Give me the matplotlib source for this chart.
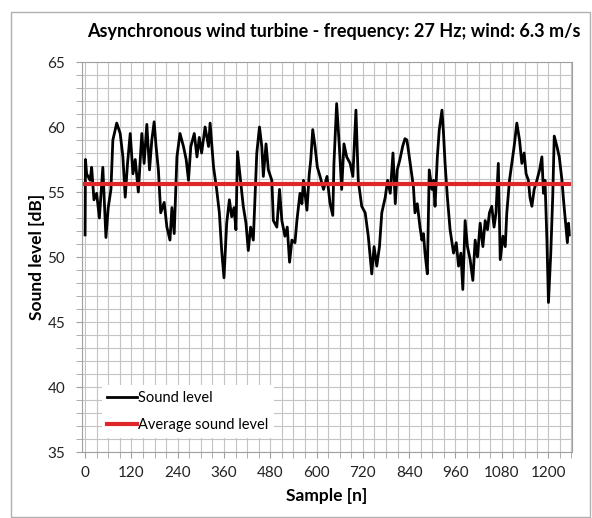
import matplotlib
matplotlib.use("Agg")
import matplotlib.pyplot as plt
from matplotlib.patches import Rectangle
from matplotlib.ticker import MultipleLocator
import numpy as np

plt.rcParams['font.family'] = ['Lato', 'DejaVu Sans']

# --- data ---
sample = [0, 1, 4, 13, 17, 23, 30, 37, 46, 54, 60, 67, 72, 82, 91, 98, 104, 110,
          117, 124, 130, 138, 147, 153, 160, 167, 173, 179, 184, 190, 196, 205,
          212, 220, 225, 231, 238, 246, 255, 262, 268, 274, 283, 290, 296, 302,
          311, 320, 324, 333, 341, 348, 354, 360, 367, 374, 380, 386, 391, 395,
          410, 417, 423, 429, 436, 445, 452, 458, 462, 469, 475, 484, 488, 497,
          504, 510, 518, 524, 530, 536, 544, 549, 557, 562, 566, 575, 581, 585,
          590, 596, 602, 609, 618, 627, 635, 642, 645, 652, 659, 665, 671, 678,
          687, 694, 702, 708, 717, 726, 734, 743, 749, 756, 763, 769, 778, 784,
          791, 798, 804, 809, 816, 823, 829, 834, 838, 844, 851, 855, 861, 868,
          873, 877, 881, 887, 892, 899, 903, 907, 913, 918, 925, 929, 933, 939,
          946, 955, 962, 968, 974, 979, 985, 991, 998, 1005, 1011, 1017, 1024,
          1031, 1037, 1043, 1048, 1054, 1060, 1065, 1071, 1076, 1083, 1089, 1093,
          1100, 1106, 1112, 1119, 1126, 1132, 1138, 1143, 1149, 1153, 1158, 1164,
          1171, 1178, 1184, 1188, 1192, 1197, 1201, 1207, 1212, 1216, 1223, 1229,
          1236, 1240, 1247, 1250, 1253, 1255]
sound_db = [51.7, 57.5, 56.4, 55.9, 56.9, 54.4, 54.9, 53.0, 56.9, 51.5, 53.8, 55.2,
            59.0, 60.3, 59.5, 57.7, 54.6, 57.2, 59.5, 56.4, 57.5, 55.0, 59.5, 57.2,
            60.2, 56.7, 59.0, 60.4, 58.5, 56.7, 53.4, 54.2, 52.3, 51.3, 53.8, 51.8,
            57.7, 59.5, 58.5, 57.5, 55.9, 58.5, 59.5, 57.7, 59.2, 58.0, 60.0, 58.5,
            60.3, 56.9, 55.2, 53.4, 50.5, 48.4, 52.6, 54.4, 53.1, 53.8, 52.1, 58.1,
            53.9, 52.6, 50.5, 52.3, 51.3, 58.0, 60.0, 58.5, 56.2, 58.7, 56.7, 55.9,
            52.8, 52.3, 55.2, 52.8, 51.6, 52.3, 49.6, 51.3, 51.1, 52.8, 54.9, 54.1,
            55.9, 53.6, 56.4, 57.5, 59.8, 58.5, 56.9, 56.2, 55.2, 56.2, 54.1, 53.2,
            57.2, 61.8, 58.5, 55.2, 58.7, 57.7, 57.2, 56.2, 61.3, 55.9, 53.9, 53.4,
            51.6, 48.7, 50.8, 49.3, 50.8, 53.4, 54.6, 55.9, 54.9, 58.0, 54.1, 56.7,
            57.5, 58.5, 59.1, 59.0, 58.2, 56.9, 55.4, 53.4, 54.1, 52.3, 51.3, 51.8,
            50.3, 48.7, 56.7, 55.2, 55.9, 53.9, 57.7, 59.8, 61.3, 59.5, 57.2, 54.6,
            52.1, 50.3, 51.1, 49.3, 50.3, 47.5, 52.8, 50.8, 49.8, 48.2, 51.3, 50.0,
            52.6, 50.8, 52.8, 52.1, 53.4, 53.9, 52.3, 53.4, 57.2, 49.8, 51.6, 50.8,
            53.4, 55.9, 57.2, 58.5, 60.3, 59.0, 57.2, 58.0, 56.4, 55.9, 54.6, 53.9,
            55.2, 55.9, 56.7, 57.7, 54.9, 55.9, 51.3, 46.5, 50.3, 54.6, 59.3, 58.5,
            57.7, 55.9, 54.4, 52.1, 51.1, 52.6, 51.7]
average_db = 55.6
x_ticks = [0, 120, 240, 360, 480, 600, 720, 840, 960, 1080, 1200]
y_ticks = [35, 40, 45, 50, 55, 60, 65]

fig = plt.figure(figsize=(5.92, 5.18), dpi=100)
ax = fig.add_axes([82 / 592, 1 - 452 / 518, 490 / 592, 390 / 518])

# grid: fine 1 dB / 30 samples
ax.xaxis.set_minor_locator(MultipleLocator(30))
ax.yaxis.set_minor_locator(MultipleLocator(1))
ax.grid(True, which='both', color='#c4c4c4', linewidth=0.8)
ax.set_axisbelow(True)

ax.plot(sample, sound_db, color='black', linewidth=2.0, label='Sound level')
ax.plot([sample[0], sample[-1]], [average_db, average_db], color='#e1262b',
        linewidth=3.0, label='Average sound level')

ax.set_xlim(-8, 1262)
ax.set_ylim(35, 65)
ax.set_xticks(x_ticks)
ax.set_yticks(y_ticks)
ax.tick_params(which='both', direction='out', length=4, color='#a0a0a0',
               labelsize=11, labelcolor='#222222')
ax.tick_params(axis='y', pad=8)
ax.tick_params(axis='x', pad=6)
for s in ax.spines.values():
    s.set_color('#a0a0a0')
    s.set_linewidth(0.8)

ax.set_xlabel('Sample [n]', fontsize=12.5, fontweight='bold', labelpad=6)
ax.set_ylabel('Sound level [dB]', fontsize=12.5, fontweight='bold', labelpad=2)
fig.text(334 / 592, 1 - 31 / 518, 'Asynchronous wind turbine - frequency: 27 Hz; wind: 6.3 m/s',
         ha='center', va='center', fontsize=13, fontweight='bold')

leg = ax.legend(loc='upper left', bbox_to_anchor=(0.025, 0.19), fontsize=10.5,
                frameon=True, fancybox=False, framealpha=1, edgecolor='none',
                facecolor='white', handlelength=2.0, handletextpad=0.1,
                labelspacing=0.9, borderpad=0.4)

# outer chart border
fig.patches.append(Rectangle((11 / 592, 1 / 518), 579 / 592, 505 / 518,
                             transform=fig.transFigure, fill=False,
                             edgecolor='#b0b0b0', linewidth=1.0))

fig.savefig('out.png', dpi=100)
